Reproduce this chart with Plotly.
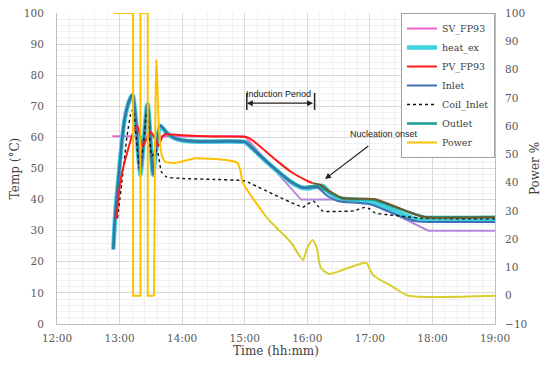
import plotly.graph_objects as go

D = "2024-01-01 "

# ---------------- data ----------------
sv_t = ["12:53", "15:00", "15:25"]
sv_v = [60.4, 60.4, 50.9]
sv2_t = ["15:25", "15:54", "16:50", "17:05", "17:56", "19:00"]
sv2_v = [50.9, 40.0, 40.0, 38.5, 30.0, 30.0]

hx_t = ["12:54", "12:56", "12:59", "13:02", "13:05", "13:09", "13:12", "13:13", "13:16", "13:18", "13:20",
        "13:23", "13:26", "13:27", "13:29", "13:32", "13:35", "13:39", "13:45", "13:52", "14:00", "14:15",
        "15:00", "15:04", "15:15", "15:30", "15:45", "15:55", "16:02", "16:08", "16:15", "16:22", "16:30",
        "16:45", "17:00", "17:10", "17:30", "17:47", "18:00", "19:00"]
hx_v = [24, 36, 47, 58, 66, 71.5, 73.5, 73.2, 64, 54, 48,
        58, 69.5, 70.7, 63, 48, 56, 63.7, 61.5, 59.8, 59.0, 58.6,
        58.5, 57.5, 54, 49.5, 45.5, 43.8, 43.6, 44.2, 44.4, 42, 40.5,
        40.0, 39.2, 38.5, 35.5, 33.5, 33.3, 33.5]

pv_t = ["12:57", "13:01", "13:08", "13:14", "13:17", "13:20", "13:22", "13:26", "13:30", "13:34",
        "13:37", "13:41", "13:44", "14:00", "14:30", "15:03", "15:15", "15:30", "15:45", "16:00", "16:05"]
pv_v = [33.8, 46.3, 56, 62.5, 63.7, 60, 57.2, 59.5, 61.7, 59.5,
        57.2, 60.2, 61, 60.7, 60.3, 60.0, 57, 52.7, 48.8, 46, 45.3]
pv2_t = ["16:05", "16:13", "16:20", "16:34", "16:45", "17:04", "17:15", "17:30", "17:45", "17:52", "18:00", "19:00"]
pv2_v = [45.3, 44.7, 43, 40.5, 40.3, 40.2, 39, 37, 35, 34.4, 34.2, 34.3]

in_t = hx_t[:28] + ["16:10", "16:20", "16:30", "17:00", "17:30", "17:45", "18:00", "19:00"]
in_v = hx_v[:28] + [43.8, 41, 39.5, 38.5, 34.5, 33, 32.8, 32.8]

coil_t = ["12:58", "13:02", "13:07", "13:11", "13:13", "13:16", "13:19", "13:23", "13:26", "13:28", "13:31",
          "13:36", "13:40", "13:45", "14:00", "14:30", "14:55", "15:00", "15:56", "16:00", "16:06", "16:10",
          "16:15", "16:30", "16:45", "16:55", "17:00", "17:05", "17:15", "17:35", "17:50", "19:00"]
coil_v = [34, 45, 60, 68, 69, 60, 50, 58, 68, 63, 54,
          56, 49, 47.3, 46.8, 46.5, 46.2, 46, 37.6, 38.5, 39.5, 38,
          36.3, 36.2, 36.4, 37.5, 37, 35.7, 35.2, 34.5, 34, 33.8]

out_t = hx_t[:28] + ["16:10", "16:20", "16:34", "17:04", "17:30", "17:52", "18:00", "19:00"]
out_v = [v + 0.2 for v in hx_v[:28]] + [44.4, 42.5, 40.3, 40.0, 36.8, 34.5, 34.4, 34.5]

# power: on/off pulses (straight segments)
pw_t = ["12:55", "13:13", "13:13", "13:20", "13:20", "13:27", "13:27", "13:33"]
pw_v = [100, 100, 0, 0, 100, 100, 0, 0]
# power: spike and controlled decay (smooth)
pw2_t = ["13:33", "13:34", "13:35", "13:36", "13:37", "13:39", "13:41", "13:44", "13:54", "14:00", "14:13",
         "14:42", "14:53", "14:56", "14:58", "15:18", "15:23", "15:44", "15:56", "15:59", "16:05", "16:09",
         "16:13", "16:21", "16:39", "16:54", "16:57", "17:03", "17:21", "17:24", "17:37", "19:00"]
pw2_v = [0, 50, 83.5, 78, 65, 53, 49, 47.3, 47, 47.5, 48.6,
         48, 47, 44, 40, 29.2, 26.8, 19, 12.6, 16, 19.7, 17,
         9.8, 7.7, 9.8, 11.6, 11.5, 7.3, 3.4, 2.7, 0, 0]


def tx(ts):
    return [D + t for t in ts]


SERIF = "DejaVu Serif"
fig = go.Figure()

fig.add_trace(go.Scatter(x=tx(pw_t), y=pw_v, name="Power", yaxis="y2", mode="lines",
                         line=dict(color="#FFC000", width=2), legendrank=7, cliponaxis=False))
fig.add_trace(go.Scatter(x=tx(pw2_t[:16]), y=pw2_v[:16], name="Power", yaxis="y2", mode="lines", showlegend=False,
                         line=dict(color="#FFC000", width=2, shape="spline", smoothing=0.5)))
fig.add_trace(go.Scatter(x=tx(pw2_t[15:]), y=pw2_v[15:], name="Power", yaxis="y2", mode="lines", showlegend=False,
                         line=dict(color="#D8CF2E", width=2, shape="spline", smoothing=0.6)))

fig.add_trace(go.Scatter(x=tx(sv_t), y=sv_v, name="SV_FP93", mode="lines",
                         line=dict(color="#F062C8", width=2), legendrank=1))
fig.add_trace(go.Scatter(x=tx(sv2_t), y=sv2_v, name="SV_FP93", mode="lines", showlegend=False,
                         line=dict(color="#B48AD8", width=2)))

fig.add_trace(go.Scatter(x=tx(hx_t), y=hx_v, name="heat_ex", mode="lines",
                         line=dict(color="#3ED2DC", width=4.5, shape="spline", smoothing=0.6), legendrank=2))
fig.add_trace(go.Scatter(x=tx(out_t), y=out_v, name="Outlet", mode="lines",
                         line=dict(color="#1B9E96", width=2.6, shape="spline", smoothing=0.6), legendrank=6))
fig.add_trace(go.Scatter(x=tx(in_t), y=in_v, name="Inlet", mode="lines",
                         line=dict(color="#3C6FB4", width=2, shape="spline", smoothing=0.6), legendrank=4))
fig.add_trace(go.Scatter(x=tx(coil_t), y=coil_v, name="Coil_Inlet", mode="lines",
                         line=dict(color="#111111", width=1.4, dash="dot", shape="spline", smoothing=0.5), legendrank=5))
fig.add_trace(go.Scatter(x=tx(pv_t), y=pv_v, name="PV_FP93", mode="lines",
                         line=dict(color="#FF1A1A", width=2, shape="spline", smoothing=0.6), legendrank=3))
fig.add_trace(go.Scatter(x=tx(pv2_t), y=pv2_v, name="PV_FP93", mode="lines", showlegend=False,
                         line=dict(color="#6E5A2A", width=2, shape="spline", smoothing=0.6)))

tickfont = dict(family=SERIF, size=10.5, color="#595959")
titlefont = dict(family=SERIF, size=12, color="#404040")

# the page adds an 8px body margin, so the figure is 8px smaller than the window
fig.update_layout(
    width=542, height=357,
    margin=dict(l=49, r=55, t=5, b=41, autoexpand=False),
    paper_bgcolor="white", plot_bgcolor="white",
    font=dict(family=SERIF, color="#404040"),
    xaxis=dict(
        range=[D + "12:00", D + "19:00"], type="date", tickformat="%H:%M", dtick=3600000,
        tick0=D + "12:00", tickfont=tickfont, title=dict(text="Time (hh:mm)", font=titlefont, standoff=4),
        showgrid=True, gridcolor="#D9D9D9", gridwidth=1, automargin=False, ticklabeloverflow="allow",
        minor=dict(dtick=720000, showgrid=True, gridcolor="#F0F0F0"),
        showline=True, linecolor="#BFBFBF", mirror=False, zeroline=False, ticks="", ticklabelstandoff=4,
    ),
    yaxis=dict(
        range=[0, 100], dtick=10, tickfont=tickfont, automargin=False, ticklabeloverflow="allow",
        title=dict(text="Temp (°C)", font=titlefont, standoff=8),
        showgrid=True, gridcolor="#D9D9D9", gridwidth=1,
        minor=dict(dtick=2, showgrid=True, gridcolor="#F0F0F0"),
        showline=True, linecolor="#BFBFBF", zeroline=False, ticks="", ticklabelstandoff=10,
    ),
    yaxis2=dict(
        range=[-10, 100], dtick=10, overlaying="y", side="right", tickfont=tickfont, automargin=False,
        ticklabeloverflow="allow",
        title=dict(text="Power %", font=titlefont, standoff=4),
        showgrid=False, showline=True, linecolor="#BFBFBF", zeroline=False, ticks="", ticklabelstandoff=7,
    ),
    legend=dict(x=1, y=1, xanchor="right", yanchor="top", bgcolor="white",
                bordercolor="#A0A0A0", borderwidth=1, font=dict(family=SERIF, size=9.5, color="#404040"),
                itemwidth=30, tracegroupgap=0),
    showlegend=True,
)

ANN = dict(family="Liberation Sans", size=9, color="#222222")
fig.add_annotation(x=D + "15:02", y=71, ax=D + "16:07", ay=71, xref="x", yref="y", axref="x", ayref="y",
                   text="", showarrow=True, arrowhead=2, startarrowhead=2, arrowside="end+start",
                   arrowsize=1, arrowwidth=1.2, arrowcolor="#222222")
fig.add_shape(type="line", x0=D + "15:02", x1=D + "15:02", y0=68.8, y1=74.3, xref="x", yref="y",
              line=dict(color="#222222", width=1.5))
fig.add_shape(type="line", x0=D + "16:07", x1=D + "16:07", y0=68.8, y1=74.3, xref="x", yref="y",
              line=dict(color="#222222", width=1.5))
fig.add_annotation(x=D + "15:32", y=73.8, xref="x", yref="y", text="Induction Period", showarrow=False,
                   font=ANN)
fig.add_annotation(x=D + "17:14", y=61.1, xref="x", yref="y", text="Nucleation onset", showarrow=False,
                   font=ANN)
fig.add_annotation(x=D + "16:17", y=46.6, ax=D + "17:00", ay=57.6, xref="x", yref="y", axref="x", ayref="y",
                   text="", showarrow=True, arrowhead=2, arrowsize=1, arrowwidth=1.2, arrowcolor="#222222")

fig.write_html("out.html")
